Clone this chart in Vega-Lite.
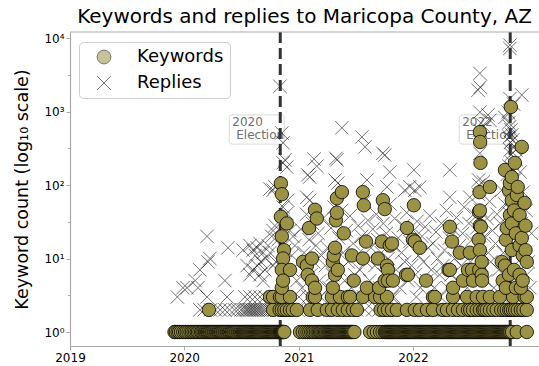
{
  "$schema": "https://vega.github.io/schema/vega-lite/v6.json",
  "width": 469,
  "height": 314,
  "autosize": {"type": "none"},
  "padding": {"left": 70, "top": 32, "right": 0, "bottom": 20},
  "background": "#ffffff",
  "config": {
    "font": "DejaVu Sans",
    "view": {"stroke": null},
    "axis": {
      "grid": false,
      "domainColor": "#aaaaaa",
      "domainWidth": 1.2,
      "tickColor": "#aaaaaa",
      "tickWidth": 1,
      "labelFont": "DejaVu Sans",
      "labelFontSize": 12,
      "labelColor": "#000000",
      "titleFont": "DejaVu Sans",
      "titleFontWeight": "normal",
      "titleColor": "#000000",
      "labelFlush": false,
      "labelOverlap": false
    }
  },
  "title": {
    "text": "Keywords and replies to Maricopa County, AZ",
    "font": "DejaVu Sans",
    "fontSize": 20,
    "fontWeight": "normal",
    "color": "#000000",
    "anchor": "middle",
    "offset": 4
  },
  "datasets": {
    "ev": [
      {"d": "2020-11-03", "yr": "2020", "l": "Election"},
      {"d": "2022-11-08", "yr": "2022", "l": "Election"}
    ],
    "kw": [
      {"d":"2019-12-01","n":1},{"d":"2019-12-05","n":1},{"d":"2019-12-11","n":1},{"d":"2019-12-16","n":1},{"d":"2019-12-22","n":1},{"d":"2019-12-29","n":1},
      {"d":"2020-01-04","n":1},{"d":"2020-01-09","n":1},{"d":"2020-01-15","n":1},{"d":"2020-01-21","n":1},{"d":"2020-01-26","n":1},{"d":"2020-01-31","n":1},
      {"d":"2020-02-05","n":1},{"d":"2020-02-10","n":1},{"d":"2020-02-14","n":1},{"d":"2020-02-19","n":1},{"d":"2020-02-24","n":1},{"d":"2020-02-28","n":1},
      {"d":"2020-03-03","n":1},{"d":"2020-03-07","n":1},{"d":"2020-03-10","n":1},{"d":"2020-03-14","n":1},{"d":"2020-03-17","n":1},{"d":"2020-03-21","n":1},{"d":"2020-03-24","n":1},{"d":"2020-03-28","n":1},{"d":"2020-03-31","n":1},
      {"d":"2020-04-04","n":1},{"d":"2020-04-07","n":1},{"d":"2020-04-11","n":1},{"d":"2020-04-14","n":1},{"d":"2020-04-18","n":1},{"d":"2020-04-21","n":1},{"d":"2020-04-25","n":1},{"d":"2020-04-28","n":1},
      {"d":"2020-05-02","n":1},{"d":"2020-05-05","n":1},{"d":"2020-05-09","n":1},{"d":"2020-05-12","n":1},{"d":"2020-05-16","n":1},{"d":"2020-05-19","n":1},{"d":"2020-05-23","n":1},{"d":"2020-05-26","n":1},{"d":"2020-05-30","n":1},
      {"d":"2020-06-02","n":1},{"d":"2020-06-06","n":1},{"d":"2020-06-09","n":1},{"d":"2020-06-13","n":1},{"d":"2020-06-16","n":1},{"d":"2020-06-20","n":1},{"d":"2020-06-23","n":1},{"d":"2020-06-27","n":1},{"d":"2020-06-30","n":1},
      {"d":"2020-07-04","n":1},{"d":"2020-07-07","n":1},{"d":"2020-07-10","n":1},{"d":"2020-07-13","n":1},{"d":"2020-07-16","n":1},{"d":"2020-07-19","n":1},{"d":"2020-07-22","n":1},{"d":"2020-07-25","n":1},{"d":"2020-07-28","n":1},{"d":"2020-07-31","n":1},
      {"d":"2020-08-03","n":1},{"d":"2020-08-06","n":1},{"d":"2020-08-09","n":1},{"d":"2020-08-12","n":1},{"d":"2020-08-15","n":1},{"d":"2020-08-18","n":1},{"d":"2020-08-21","n":1},{"d":"2020-08-24","n":1},{"d":"2020-08-27","n":1},{"d":"2020-08-30","n":1},
      {"d":"2020-09-02","n":1},{"d":"2020-09-05","n":1},{"d":"2020-09-08","n":1},{"d":"2020-09-11","n":1},{"d":"2020-09-14","n":1},{"d":"2020-09-17","n":1},{"d":"2020-09-20","n":1},{"d":"2020-09-23","n":1},{"d":"2020-09-26","n":1},{"d":"2020-09-29","n":1},
      {"d":"2020-10-02","n":1},{"d":"2020-10-05","n":1},{"d":"2020-10-08","n":1},{"d":"2020-10-11","n":1},{"d":"2020-10-14","n":1},{"d":"2020-10-17","n":1},{"d":"2020-10-20","n":1},{"d":"2020-10-23","n":1},{"d":"2020-10-26","n":1},{"d":"2020-10-29","n":1},
      {"d":"2020-11-01","n":1},{"d":"2020-11-03","n":1},{"d":"2020-11-05","n":1},{"d":"2020-11-07","n":1},{"d":"2020-11-09","n":1},{"d":"2020-11-11","n":1},{"d":"2020-11-13","n":1},{"d":"2020-11-16","n":1},
      {"d":"2021-01-05","n":1},{"d":"2021-01-14","n":1},{"d":"2021-01-22","n":1},{"d":"2021-01-29","n":1},{"d":"2021-02-04","n":1},{"d":"2021-02-10","n":1},{"d":"2021-02-15","n":1},{"d":"2021-02-20","n":1},{"d":"2021-02-25","n":1},
      {"d":"2021-03-02","n":1},{"d":"2021-03-06","n":1},{"d":"2021-03-10","n":1},{"d":"2021-03-14","n":1},{"d":"2021-03-18","n":1},{"d":"2021-03-22","n":1},{"d":"2021-03-26","n":1},{"d":"2021-03-30","n":1},
      {"d":"2021-04-03","n":1},{"d":"2021-04-06","n":1},{"d":"2021-04-09","n":1},{"d":"2021-04-12","n":1},{"d":"2021-04-15","n":1},{"d":"2021-04-18","n":1},{"d":"2021-04-21","n":1},{"d":"2021-04-24","n":1},{"d":"2021-04-27","n":1},{"d":"2021-04-30","n":1},
      {"d":"2021-05-03","n":1},{"d":"2021-05-06","n":1},{"d":"2021-05-09","n":1},{"d":"2021-05-12","n":1},{"d":"2021-05-15","n":1},{"d":"2021-05-18","n":1},{"d":"2021-05-21","n":1},{"d":"2021-05-24","n":1},{"d":"2021-05-27","n":1},{"d":"2021-05-30","n":1},
      {"d":"2021-06-02","n":1},{"d":"2021-06-05","n":1},{"d":"2021-06-08","n":1},{"d":"2021-06-11","n":1},{"d":"2021-06-14","n":1},{"d":"2021-06-17","n":1},{"d":"2021-06-20","n":1},{"d":"2021-06-24","n":1},{"d":"2021-06-28","n":1},
      {"d":"2021-08-17","n":1},{"d":"2021-08-29","n":1},{"d":"2021-09-08","n":1},{"d":"2021-09-18","n":1},{"d":"2021-09-26","n":1},{"d":"2021-10-03","n":1},
      {"d":"2021-10-06","n":1},{"d":"2021-10-09","n":1},{"d":"2021-10-12","n":1},{"d":"2021-10-15","n":1},{"d":"2021-10-18","n":1},{"d":"2021-10-21","n":1},{"d":"2021-10-24","n":1},{"d":"2021-10-27","n":1},{"d":"2021-10-30","n":1},
      {"d":"2021-11-02","n":1},{"d":"2021-11-05","n":1},{"d":"2021-11-08","n":1},{"d":"2021-11-11","n":1},{"d":"2021-11-14","n":1},{"d":"2021-11-17","n":1},{"d":"2021-11-20","n":1},{"d":"2021-11-23","n":1},{"d":"2021-11-26","n":1},{"d":"2021-11-29","n":1},
      {"d":"2021-12-02","n":1},{"d":"2021-12-05","n":1},{"d":"2021-12-08","n":1},{"d":"2021-12-11","n":1},{"d":"2021-12-14","n":1},{"d":"2021-12-17","n":1},{"d":"2021-12-20","n":1},{"d":"2021-12-23","n":1},{"d":"2021-12-26","n":1},{"d":"2021-12-29","n":1},
      {"d":"2022-01-01","n":1},{"d":"2022-01-04","n":1},{"d":"2022-01-07","n":1},{"d":"2022-01-10","n":1},{"d":"2022-01-13","n":1},{"d":"2022-01-16","n":1},{"d":"2022-01-19","n":1},{"d":"2022-01-22","n":1},{"d":"2022-01-25","n":1},{"d":"2022-01-28","n":1},{"d":"2022-01-31","n":1},
      {"d":"2022-02-03","n":1},{"d":"2022-02-06","n":1},{"d":"2022-02-09","n":1},{"d":"2022-02-12","n":1},{"d":"2022-02-15","n":1},{"d":"2022-02-18","n":1},{"d":"2022-02-21","n":1},{"d":"2022-02-24","n":1},{"d":"2022-02-27","n":1},
      {"d":"2022-03-02","n":1},{"d":"2022-03-05","n":1},{"d":"2022-03-08","n":1},{"d":"2022-03-11","n":1},{"d":"2022-03-14","n":1},{"d":"2022-03-17","n":1},{"d":"2022-03-20","n":1},{"d":"2022-03-23","n":1},{"d":"2022-03-26","n":1},{"d":"2022-03-29","n":1},
      {"d":"2022-04-01","n":1},{"d":"2022-04-04","n":1},{"d":"2022-04-07","n":1},{"d":"2022-04-10","n":1},{"d":"2022-04-13","n":1},{"d":"2022-04-16","n":1},{"d":"2022-04-19","n":1},{"d":"2022-04-22","n":1},{"d":"2022-04-25","n":1},{"d":"2022-04-28","n":1},
      {"d":"2022-05-01","n":1},{"d":"2022-05-04","n":1},{"d":"2022-05-07","n":1},{"d":"2022-05-10","n":1},{"d":"2022-05-13","n":1},{"d":"2022-05-16","n":1},{"d":"2022-05-19","n":1},{"d":"2022-05-22","n":1},{"d":"2022-05-25","n":1},{"d":"2022-05-28","n":1},{"d":"2022-05-31","n":1},
      {"d":"2022-06-03","n":1},{"d":"2022-06-06","n":1},{"d":"2022-06-09","n":1},{"d":"2022-06-12","n":1},{"d":"2022-06-15","n":1},{"d":"2022-06-18","n":1},{"d":"2022-06-21","n":1},{"d":"2022-06-24","n":1},{"d":"2022-06-27","n":1},{"d":"2022-06-30","n":1},
      {"d":"2022-07-03","n":1},{"d":"2022-07-06","n":1},{"d":"2022-07-09","n":1},{"d":"2022-07-12","n":1},{"d":"2022-07-15","n":1},{"d":"2022-07-18","n":1},{"d":"2022-07-21","n":1},{"d":"2022-07-24","n":1},{"d":"2022-07-27","n":1},{"d":"2022-07-30","n":1},
      {"d":"2022-08-02","n":1},{"d":"2022-08-05","n":1},{"d":"2022-08-08","n":1},{"d":"2022-08-11","n":1},{"d":"2022-08-14","n":1},{"d":"2022-08-17","n":1},{"d":"2022-08-20","n":1},{"d":"2022-08-23","n":1},{"d":"2022-08-26","n":1},{"d":"2022-08-29","n":1},
      {"d":"2022-09-01","n":1},{"d":"2022-09-04","n":1},{"d":"2022-09-07","n":1},{"d":"2022-09-10","n":1},{"d":"2022-09-13","n":1},{"d":"2022-09-16","n":1},{"d":"2022-09-19","n":1},{"d":"2022-09-22","n":1},{"d":"2022-09-25","n":1},{"d":"2022-09-28","n":1},
      {"d":"2022-10-01","n":1},{"d":"2022-10-04","n":1},{"d":"2022-10-07","n":1},{"d":"2022-10-10","n":1},{"d":"2022-10-13","n":1},{"d":"2022-10-16","n":1},{"d":"2022-10-19","n":1},{"d":"2022-10-22","n":1},{"d":"2022-10-25","n":1},{"d":"2022-10-28","n":1},{"d":"2022-10-31","n":1},
      {"d":"2022-11-03","n":1},{"d":"2022-11-06","n":1},{"d":"2022-11-09","n":1},{"d":"2022-11-14","n":1},{"d":"2022-11-29","n":1},{"d":"2022-12-31","n":1},

      {"d":"2020-03-20","n":2},{"d":"2020-10-11","n":2},{"d":"2020-11-01","n":2},{"d":"2020-11-08","n":2},{"d":"2020-11-16","n":2},{"d":"2020-11-24","n":2},{"d":"2020-12-04","n":2},{"d":"2020-12-13","n":2},{"d":"2020-12-26","n":2},
      {"d":"2021-02-06","n":2},{"d":"2021-03-03","n":2},{"d":"2021-04-01","n":2},{"d":"2021-04-17","n":2},{"d":"2021-05-06","n":2},{"d":"2021-05-22","n":2},{"d":"2021-06-07","n":2},{"d":"2021-06-23","n":2},{"d":"2021-07-06","n":2},
      {"d":"2021-09-20","n":2},{"d":"2021-10-01","n":2},{"d":"2021-10-13","n":2},{"d":"2021-10-26","n":2},{"d":"2021-11-11","n":2},{"d":"2021-12-13","n":2},{"d":"2022-01-07","n":2},{"d":"2022-01-23","n":2},{"d":"2022-02-15","n":2},{"d":"2022-03-06","n":2},
      {"d":"2022-04-07","n":2},{"d":"2022-04-20","n":2},{"d":"2022-05-09","n":2},{"d":"2022-05-25","n":2},{"d":"2022-06-10","n":2},{"d":"2022-06-26","n":2},{"d":"2022-07-03","n":2},{"d":"2022-07-12","n":2},{"d":"2022-07-24","n":2},{"d":"2022-08-03","n":2},{"d":"2022-08-13","n":2},{"d":"2022-08-18","n":2},{"d":"2022-08-25","n":2},
      {"d":"2022-09-04","n":2},{"d":"2022-09-15","n":2},{"d":"2022-09-26","n":2},{"d":"2022-10-10","n":2},{"d":"2022-10-20","n":2},{"d":"2022-10-28","n":2},{"d":"2022-11-05","n":2},{"d":"2022-11-10","n":2},{"d":"2022-11-17","n":2},{"d":"2022-11-24","n":2},{"d":"2022-12-02","n":2},{"d":"2022-12-12","n":2},{"d":"2022-12-20","n":2},{"d":"2022-12-31","n":2},

      {"d":"2020-10-01","n":3},{"d":"2020-10-11","n":3},{"d":"2020-11-02","n":3},{"d":"2020-11-08","n":3},{"d":"2020-12-04","n":3},{"d":"2021-02-15","n":3},{"d":"2021-02-22","n":3},{"d":"2021-04-17","n":3},{"d":"2021-05-13","n":3},{"d":"2021-06-07","n":3},{"d":"2021-06-14","n":3},
      {"d":"2021-07-25","n":3},{"d":"2021-09-02","n":3},{"d":"2021-09-18","n":3},{"d":"2021-10-10","n":3},{"d":"2022-03-06","n":3},{"d":"2022-03-12","n":3},{"d":"2022-05-09","n":3},{"d":"2022-06-23","n":3},{"d":"2022-07-24","n":3},{"d":"2022-08-13","n":3},{"d":"2022-09-04","n":3},
      {"d":"2022-10-06","n":3},{"d":"2022-11-17","n":3},{"d":"2022-12-24","n":3},{"d":"2022-12-31","n":3},

      {"d":"2020-11-05","n":105},{"d":"2020-11-08","n":75},{"d":"2020-11-05","n":37},{"d":"2020-11-24","n":30},{"d":"2020-11-08","n":20},{"d":"2020-11-15","n":13},{"d":"2020-11-12","n":10},{"d":"2020-11-08","n":7},{"d":"2020-12-04","n":7},{"d":"2020-11-08","n":4},{"d":"2020-11-12","n":5},
      {"d":"2021-01-15","n":9},{"d":"2021-01-27","n":8},{"d":"2021-01-30","n":6},{"d":"2021-02-03","n":26},{"d":"2021-02-12","n":10},{"d":"2021-02-12","n":5},{"d":"2021-02-22","n":46},{"d":"2021-02-28","n":35},{"d":"2021-02-22","n":4},
      {"d":"2021-04-20","n":9},{"d":"2021-04-20","n":4},{"d":"2021-04-23","n":11},{"d":"2021-04-27","n":14},{"d":"2021-04-27","n":6},{"d":"2021-04-30","n":33},{"d":"2021-05-03","n":66},{"d":"2021-05-03","n":42},{"d":"2021-05-06","n":7},{"d":"2021-05-19","n":80},{"d":"2021-05-25","n":22},
      {"d":"2021-06-20","n":11},{"d":"2021-06-26","n":5},{"d":"2021-07-25","n":80},{"d":"2021-07-28","n":53},{"d":"2021-07-25","n":10},{"d":"2021-08-04","n":17},{"d":"2021-08-07","n":4},
      {"d":"2021-09-11","n":10},{"d":"2021-09-15","n":4},{"d":"2021-09-24","n":17},{"d":"2021-09-27","n":62},{"d":"2021-10-03","n":47},{"d":"2021-10-03","n":5},{"d":"2021-10-10","n":8},{"d":"2021-10-13","n":7},{"d":"2021-10-13","n":5},{"d":"2021-10-19","n":15},{"d":"2021-10-26","n":16},{"d":"2021-10-29","n":5},
      {"d":"2021-12-10","n":6},{"d":"2021-12-13","n":26},{"d":"2021-12-16","n":6},{"d":"2022-01-01","n":18},{"d":"2022-01-04","n":53},{"d":"2022-01-07","n":17},{"d":"2022-01-23","n":14},{"d":"2022-02-12","n":5},
      {"d":"2022-04-25","n":7},{"d":"2022-04-29","n":27},{"d":"2022-04-29","n":7},{"d":"2022-05-06","n":17},{"d":"2022-05-09","n":4},{"d":"2022-05-31","n":12},{"d":"2022-06-10","n":5},{"d":"2022-06-26","n":7},{"d":"2022-07-02","n":12},{"d":"2022-07-09","n":7},{"d":"2022-07-12","n":5},
      {"d":"2022-07-30","n":18},{"d":"2022-07-31","n":43},{"d":"2022-08-01","n":7},{"d":"2022-08-02","n":80},{"d":"2022-08-03","n":525},{"d":"2022-08-04","n":385},{"d":"2022-08-05","n":200},{"d":"2022-08-03","n":45},{"d":"2022-08-03","n":28},{"d":"2022-08-03","n":13},{"d":"2022-08-06","n":27},{"d":"2022-08-09","n":9},{"d":"2022-08-09","n":6},{"d":"2022-08-10","n":5},
      {"d":"2022-09-04","n":94},{"d":"2022-10-12","n":9},{"d":"2022-10-15","n":5},{"d":"2022-10-22","n":160},{"d":"2022-10-22","n":8},{"d":"2022-10-25","n":18},{"d":"2022-10-25","n":4},{"d":"2022-10-28","n":26},
      {"d":"2022-11-04","n":85},{"d":"2022-11-04","n":6},{"d":"2022-11-07","n":106},{"d":"2022-11-07","n":39},{"d":"2022-11-10","n":1150},{"d":"2022-11-13","n":128},{"d":"2022-11-13","n":62},{"d":"2022-11-13","n":30},{"d":"2022-11-13","n":13},
      {"d":"2022-11-20","n":45},{"d":"2022-11-20","n":7},{"d":"2022-11-23","n":200},{"d":"2022-11-26","n":22},{"d":"2022-11-26","n":4},{"d":"2022-11-29","n":73},{"d":"2022-12-02","n":94},{"d":"2022-12-08","n":39},{"d":"2022-12-08","n":15},{"d":"2022-12-08","n":6},{"d":"2022-12-12","n":4},
      {"d":"2022-12-15","n":330},{"d":"2022-12-15","n":19},{"d":"2022-12-18","n":11},{"d":"2022-12-18","n":5},{"d":"2022-12-24","n":57},{"d":"2022-12-27","n":28},{"d":"2022-12-27","n":13},{"d":"2022-12-31","n":9}
    ],
    "rp": [
      {"d":"2019-12-10","n":3},{"d":"2019-12-28","n":4},{"d":"2020-01-10","n":4},{"d":"2020-02-05","n":5},{"d":"2020-02-14","n":4},{"d":"2020-02-20","n":7},{"d":"2020-02-20","n":2},{"d":"2020-03-05","n":2},
      {"d":"2020-03-14","n":20},{"d":"2020-03-14","n":3},{"d":"2020-03-17","n":9},{"d":"2020-03-23","n":10},{"d":"2020-03-25","n":2},{"d":"2020-04-10","n":2},{"d":"2020-04-25","n":2},
      {"d":"2020-05-10","n":5},{"d":"2020-05-10","n":2},{"d":"2020-05-17","n":3},{"d":"2020-05-20","n":14},{"d":"2020-05-25","n":2},{"d":"2020-06-10","n":2},{"d":"2020-06-20","n":2},
      {"d":"2020-07-01","n":2},{"d":"2020-07-07","n":13},{"d":"2020-07-08","n":2},{"d":"2020-07-13","n":3},{"d":"2020-07-15","n":2},{"d":"2020-07-20","n":8},{"d":"2020-07-20","n":2},{"d":"2020-07-25","n":2},
      {"d":"2020-07-29","n":15},{"d":"2020-07-29","n":6},{"d":"2020-07-29","n":3},{"d":"2020-07-30","n":2},{"d":"2020-08-04","n":2},{"d":"2020-08-08","n":13},{"d":"2020-08-08","n":7},{"d":"2020-08-09","n":2},
      {"d":"2020-08-14","n":3},{"d":"2020-08-14","n":2},{"d":"2020-08-15","n":11},{"d":"2020-08-19","n":2},{"d":"2020-08-21","n":14},{"d":"2020-08-21","n":8},{"d":"2020-08-24","n":2},
      {"d":"2020-08-30","n":16},{"d":"2020-08-30","n":6},{"d":"2020-08-30","n":3},{"d":"2020-08-30","n":2},{"d":"2020-09-02","n":9},{"d":"2020-09-05","n":2},{"d":"2020-09-09","n":12},{"d":"2020-09-09","n":5},
      {"d":"2020-09-12","n":2},{"d":"2020-09-15","n":7},{"d":"2020-09-15","n":3},{"d":"2020-09-18","n":10},{"d":"2020-09-20","n":2},{"d":"2020-09-25","n":15},{"d":"2020-09-28","n":2},
      {"d":"2020-10-01","n":12},{"d":"2020-10-01","n":88},{"d":"2020-10-05","n":2},{"d":"2020-10-07","n":20},{"d":"2020-10-11","n":8},{"d":"2020-10-11","n":24},{"d":"2020-10-11","n":85},{"d":"2020-10-15","n":2},
      {"d":"2020-10-17","n":94},{"d":"2020-10-17","n":28},{"d":"2020-10-20","n":9},{"d":"2020-10-25","n":2},{"d":"2020-10-27","n":18},
      {"d":"2020-11-02","n":2200},{"d":"2020-11-04","n":3},{"d":"2020-11-08","n":510},{"d":"2020-11-12","n":375},{"d":"2020-11-12","n":200},{"d":"2020-11-12","n":50},{"d":"2020-11-18","n":220},{"d":"2020-11-18","n":13},
      {"d":"2020-11-24","n":175},{"d":"2020-11-24","n":41},{"d":"2020-11-27","n":62},{"d":"2020-12-04","n":24},{"d":"2020-12-10","n":11},{"d":"2020-12-10","n":7},{"d":"2020-12-14","n":20},{"d":"2020-12-20","n":15},{"d":"2020-12-26","n":5},{"d":"2020-12-28","n":2},

      {"d":"2021-01-02","n":3},{"d":"2021-01-08","n":25},{"d":"2021-01-12","n":4},{"d":"2021-01-18","n":12},{"d":"2021-01-20","n":2},{"d":"2021-01-22","n":7},{"d":"2021-01-26","n":40},{"d":"2021-01-27","n":68},{"d":"2021-01-30","n":137},{"d":"2021-01-31","n":3},
      {"d":"2021-02-03","n":18},{"d":"2021-02-05","n":128},{"d":"2021-02-05","n":62},{"d":"2021-02-09","n":6},{"d":"2021-02-10","n":2},{"d":"2021-02-14","n":30},{"d":"2021-02-18","n":9},{"d":"2021-02-19","n":225},{"d":"2021-02-25","n":15},{"d":"2021-02-28","n":180},
      {"d":"2021-03-01","n":2},{"d":"2021-03-04","n":22},{"d":"2021-03-09","n":5},{"d":"2021-03-12","n":3},{"d":"2021-03-15","n":11},{"d":"2021-03-20","n":35},{"d":"2021-03-20","n":2},{"d":"2021-03-27","n":8},
      {"d":"2021-04-03","n":14},{"d":"2021-04-08","n":4},{"d":"2021-04-12","n":2},{"d":"2021-04-14","n":26},{"d":"2021-04-19","n":6},{"d":"2021-04-24","n":50},{"d":"2021-04-27","n":117},{"d":"2021-04-29","n":10},{"d":"2021-04-30","n":230},
      {"d":"2021-05-02","n":2},{"d":"2021-05-03","n":220},{"d":"2021-05-04","n":3},{"d":"2021-05-06","n":106},{"d":"2021-05-09","n":19},{"d":"2021-05-13","n":7},{"d":"2021-05-18","n":45},{"d":"2021-05-19","n":600},{"d":"2021-05-23","n":12},{"d":"2021-05-25","n":2},{"d":"2021-05-28","n":5},{"d":"2021-05-30","n":3},
      {"d":"2021-06-02","n":24},{"d":"2021-06-08","n":9},{"d":"2021-06-14","n":38},{"d":"2021-06-15","n":2},{"d":"2021-06-18","n":4},{"d":"2021-06-24","n":16},{"d":"2021-06-29","n":6},
      {"d":"2021-07-04","n":11},{"d":"2021-07-05","n":2},{"d":"2021-07-10","n":28},{"d":"2021-07-12","n":3},{"d":"2021-07-15","n":7},{"d":"2021-07-21","n":20},{"d":"2021-07-22","n":450},{"d":"2021-07-27","n":3},{"d":"2021-07-30","n":60},
      {"d":"2021-08-01","n":330},{"d":"2021-08-01","n":2},{"d":"2021-08-04","n":9},{"d":"2021-08-07","n":117},{"d":"2021-08-10","n":33},{"d":"2021-08-16","n":5},{"d":"2021-08-20","n":14},{"d":"2021-08-25","n":2},{"d":"2021-08-26","n":25},
      {"d":"2021-09-01","n":8},{"d":"2021-09-06","n":40},{"d":"2021-09-09","n":3},{"d":"2021-09-11","n":18},{"d":"2021-09-15","n":2},{"d":"2021-09-16","n":4},{"d":"2021-09-22","n":12},{"d":"2021-09-27","n":270},{"d":"2021-09-28","n":30},
      {"d":"2021-10-03","n":255},{"d":"2021-10-03","n":6},{"d":"2021-10-05","n":2},{"d":"2021-10-08","n":22},{"d":"2021-10-10","n":94},{"d":"2021-10-14","n":10},{"d":"2021-10-19","n":150},{"d":"2021-10-20","n":55},{"d":"2021-10-25","n":3},{"d":"2021-10-28","n":2},{"d":"2021-10-30","n":15},
      {"d":"2021-11-01","n":3},{"d":"2021-11-04","n":35},{"d":"2021-11-09","n":7},{"d":"2021-11-15","n":19},{"d":"2021-11-18","n":2},{"d":"2021-11-20","n":4},{"d":"2021-11-26","n":12},
      {"d":"2021-12-01","n":28},{"d":"2021-12-06","n":85},{"d":"2021-12-06","n":9},{"d":"2021-12-08","n":2},{"d":"2021-12-12","n":42},{"d":"2021-12-17","n":5},{"d":"2021-12-22","n":95},{"d":"2021-12-22","n":17},{"d":"2021-12-28","n":8},{"d":"2021-12-30","n":2},

      {"d":"2022-01-03","n":24},{"d":"2022-01-04","n":160},{"d":"2022-01-07","n":85},{"d":"2022-01-09","n":6},{"d":"2022-01-12","n":3},{"d":"2022-01-14","n":32},{"d":"2022-01-19","n":11},{"d":"2022-01-20","n":2},{"d":"2022-01-23","n":94},{"d":"2022-01-25","n":4},{"d":"2022-01-30","n":20},
      {"d":"2022-02-04","n":9},{"d":"2022-02-05","n":2},{"d":"2022-02-09","n":27},{"d":"2022-02-14","n":5},{"d":"2022-02-15","n":2},{"d":"2022-02-19","n":14},{"d":"2022-02-22","n":2},{"d":"2022-02-24","n":38},{"d":"2022-02-26","n":2},
      {"d":"2022-03-01","n":7},{"d":"2022-03-02","n":2},{"d":"2022-03-05","n":2},{"d":"2022-03-06","n":16},{"d":"2022-03-08","n":2},{"d":"2022-03-10","n":2},{"d":"2022-03-11","n":4},{"d":"2022-03-13","n":2},{"d":"2022-03-16","n":23},{"d":"2022-03-16","n":2},{"d":"2022-03-19","n":2},{"d":"2022-03-21","n":10},{"d":"2022-03-24","n":2},{"d":"2022-03-27","n":6},{"d":"2022-03-30","n":3},
      {"d":"2022-04-02","n":30},{"d":"2022-04-05","n":2},{"d":"2022-04-07","n":8},{"d":"2022-04-12","n":13},{"d":"2022-04-18","n":45},{"d":"2022-04-23","n":4},{"d":"2022-04-25","n":2},{"d":"2022-04-28","n":19},{"d":"2022-04-29","n":160},{"d":"2022-04-29","n":68},
      {"d":"2022-05-03","n":6},{"d":"2022-05-09","n":25},{"d":"2022-05-14","n":10},{"d":"2022-05-18","n":2},{"d":"2022-05-20","n":36},{"d":"2022-05-25","n":5},{"d":"2022-05-30","n":15},
      {"d":"2022-06-01","n":3},{"d":"2022-06-04","n":8},{"d":"2022-06-08","n":2},{"d":"2022-06-09","n":22},{"d":"2022-06-14","n":50},{"d":"2022-06-19","n":12},{"d":"2022-06-24","n":4},{"d":"2022-06-28","n":2},{"d":"2022-06-29","n":30},
      {"d":"2022-07-02","n":68},{"d":"2022-07-04","n":9},{"d":"2022-07-09","n":18},{"d":"2022-07-14","n":40},{"d":"2022-07-18","n":2},{"d":"2022-07-19","n":6},{"d":"2022-07-24","n":26},{"d":"2022-07-28","n":1950},{"d":"2022-07-29","n":75},{"d":"2022-07-30","n":117},{"d":"2022-07-31","n":100},
      {"d":"2022-08-02","n":14},{"d":"2022-08-02","n":560},{"d":"2022-08-03","n":3300},{"d":"2022-08-03","n":980},{"d":"2022-08-03","n":270},{"d":"2022-08-04","n":2150},{"d":"2022-08-05","n":420},{"d":"2022-08-06","n":45},{"d":"2022-08-08","n":2},{"d":"2022-08-10","n":8},
      {"d":"2022-08-13","n":650},{"d":"2022-08-14","n":110},{"d":"2022-08-18","n":20},{"d":"2022-08-20","n":3},{"d":"2022-08-22","n":5},{"d":"2022-08-26","n":35},{"d":"2022-08-28","n":2},{"d":"2022-08-29","n":900},{"d":"2022-08-30","n":12},
      {"d":"2022-09-03","n":60},{"d":"2022-09-04","n":760},{"d":"2022-09-07","n":9},{"d":"2022-09-12","n":24},{"d":"2022-09-17","n":4},{"d":"2022-09-18","n":2},{"d":"2022-09-22","n":16},{"d":"2022-09-27","n":40},
      {"d":"2022-10-02","n":7},{"d":"2022-10-07","n":30},{"d":"2022-10-08","n":2},{"d":"2022-10-12","n":85},{"d":"2022-10-14","n":3},{"d":"2022-10-17","n":12},{"d":"2022-10-22","n":830},{"d":"2022-10-22","n":55},{"d":"2022-10-26","n":2},{"d":"2022-10-27","n":20},{"d":"2022-10-30","n":140},
      {"d":"2022-11-01","n":980},{"d":"2022-11-02","n":25},{"d":"2022-11-03","n":700},{"d":"2022-11-04","n":180},{"d":"2022-11-05","n":450},{"d":"2022-11-06","n":620},{"d":"2022-11-06","n":60},{"d":"2022-11-07","n":8000},{"d":"2022-11-07","n":7200},{"d":"2022-11-07","n":1500},{"d":"2022-11-07","n":40},
      {"d":"2022-11-08","n":300},{"d":"2022-11-09","n":380},{"d":"2022-11-09","n":15},{"d":"2022-11-10","n":560},{"d":"2022-11-10","n":90},{"d":"2022-11-11","n":260},{"d":"2022-11-12","n":35},{"d":"2022-11-13","n":480},{"d":"2022-11-13","n":170},{"d":"2022-11-14","n":200},
      {"d":"2022-11-16","n":410},{"d":"2022-11-17","n":50},{"d":"2022-11-18","n":2},{"d":"2022-11-19","n":1260},{"d":"2022-11-20","n":8},{"d":"2022-11-22","n":330},{"d":"2022-11-24","n":120},{"d":"2022-11-26","n":300},{"d":"2022-11-28","n":220},
      {"d":"2022-12-01","n":65},{"d":"2022-12-05","n":22},{"d":"2022-12-06","n":2},{"d":"2022-12-09","n":3},{"d":"2022-12-10","n":150},{"d":"2022-12-14","n":30},{"d":"2022-12-15","n":1680},{"d":"2022-12-19","n":80},{"d":"2022-12-24","n":12},{"d":"2022-12-26","n":2},{"d":"2022-12-29","n":45},{"d":"2022-12-31","n":6},
      {"d":"2023-01-05","n":9},{"d":"2023-01-10","n":4},{"d":"2023-01-15","n":22}
    ]
  },
  "layer": [
    {
      "data": {"name": "ev"},
      "mark": {"type": "rect", "xOffset": -51, "x2Offset": 4, "fill": "#ffffff", "fillOpacity": 0.8, "stroke": "#d9d9d9", "strokeWidth": 1, "cornerRadius": 3},
      "encoding": {
        "x": {"field": "d", "type": "temporal"},
        "x2": {"field": "d"},
        "y": {"datum": 900, "type": "quantitative"},
        "y2": {"datum": 360}
      }
    },
    {
      "data": {"name": "ev"},
      "mark": {"type": "text", "align": "left", "baseline": "top", "dx": -48, "fontSize": 12, "color": "#707070", "font": "DejaVu Sans"},
      "encoding": {
        "x": {"field": "d", "type": "temporal"},
        "y": {"datum": 850, "type": "quantitative"},
        "text": {"field": "yr"}
      }
    },
    {
      "data": {"name": "ev"},
      "mark": {"type": "text", "align": "left", "baseline": "top", "dx": -44, "dy": 13.5, "fontSize": 12, "color": "#707070", "font": "DejaVu Sans"},
      "encoding": {
        "x": {"field": "d", "type": "temporal"},
        "y": {"datum": 850, "type": "quantitative"},
        "text": {"field": "l"}
      }
    },
    {
      "data": {"name": "rp"},
      "mark": {"type": "point", "opacity": 0.55, "size": 180, "strokeWidth": 1},
      "encoding": {
        "x": {
          "field": "d", "type": "temporal",
          "scale": {"type": "utc", "domain": [1546300800000, 1675814400000]},
          "axis": {"title": null, "values": [1546300800000, 1577836800000, 1609459200000, 1640995200000], "format": "%Y", "tickSize": 4, "labelPadding": 2}
        },
        "y": {
          "field": "n", "type": "quantitative",
          "scale": {"type": "log", "domain": [0.645, 12070], "nice": false},
          "axis": {
            "title": "Keyword count (log\u2081\u2080 scale)",
            "titleFontSize": 17.5,
            "titlePadding": 12,
            "values": [1, 3.1623, 10, 31.623, 100, 316.23, 1000, 3162.3, 10000],
            "labelExpr": "datum.value == 1 ? '10\u2070' : datum.value == 10 ? '10\u00b9' : datum.value == 100 ? '10\u00b2' : datum.value == 1000 ? '10\u00b3' : datum.value == 10000 ? '10\u2074' : ''",
            "tickSize": {"condition": {"test": "datum.value == 1 || datum.value == 10 || datum.value == 100 || datum.value == 1000 || datum.value == 10000", "value": 4}, "value": 2.5},
            "labelPadding": 2
          }
        },
        "shape": {"datum": "Replies", "type": "nominal", "scale": {"domain": ["Keywords", "Replies"], "range": ["circle", "M-1,-1L1,1M-1,1L1,-1"]}},
        "fill": {"datum": "Replies", "type": "nominal", "scale": {"domain": ["Keywords", "Replies"], "range": ["#9b9244", "transparent"]}},
        "stroke": {"datum": "Replies", "type": "nominal", "scale": {"domain": ["Keywords", "Replies"], "range": ["#000000", "#000000"]}}
      }
    },
    {
      "data": {"name": "ev"},
      "mark": {"type": "rule", "strokeDash": [11, 5], "strokeWidth": 3, "color": "#333333"},
      "encoding": {"x": {"field": "d", "type": "temporal"}}
    },
    {
      "data": {"name": "kw"},
      "mark": {"type": "point", "filled": true, "opacity": 1, "size": 180, "strokeWidth": 0.8},
      "encoding": {
        "x": {"field": "d", "type": "temporal"},
        "y": {"field": "n", "type": "quantitative"},
        "shape": {
          "datum": "Keywords", "type": "nominal",
          "scale": {"domain": ["Keywords", "Replies"], "range": ["circle", "M-1,-1L1,1M-1,1L1,-1"]},
          "legend": {
            "title": null, "orient": "none", "legendX": 9, "legendY": 10,
            "labelFont": "DejaVu Sans", "labelFontSize": 18, "labelColor": "#000000", "labelOffset": 24,
            "symbolSize": 190, "symbolStrokeWidth": 1, "symbolOpacity": 0.6, "symbolOffset": 10,
            "rowPadding": 8, "padding": 6, "fillColor": "rgba(255,255,255,0.8)", "strokeColor": "#cccccc", "cornerRadius": 4
          }
        },
        "fill": {"datum": "Keywords", "type": "nominal", "scale": {"domain": ["Keywords", "Replies"], "range": ["#9b9244", "transparent"]}},
        "stroke": {"datum": "Keywords", "type": "nominal", "scale": {"domain": ["Keywords", "Replies"], "range": ["#000000", "#000000"]}}
      }
    },
    {
      "data": {"values": [{}]},
      "mark": {"type": "rule", "color": "#aaaaaa", "strokeWidth": 1.2},
      "encoding": {"y": {"datum": 12070, "type": "quantitative"}}
    }
  ]
}
